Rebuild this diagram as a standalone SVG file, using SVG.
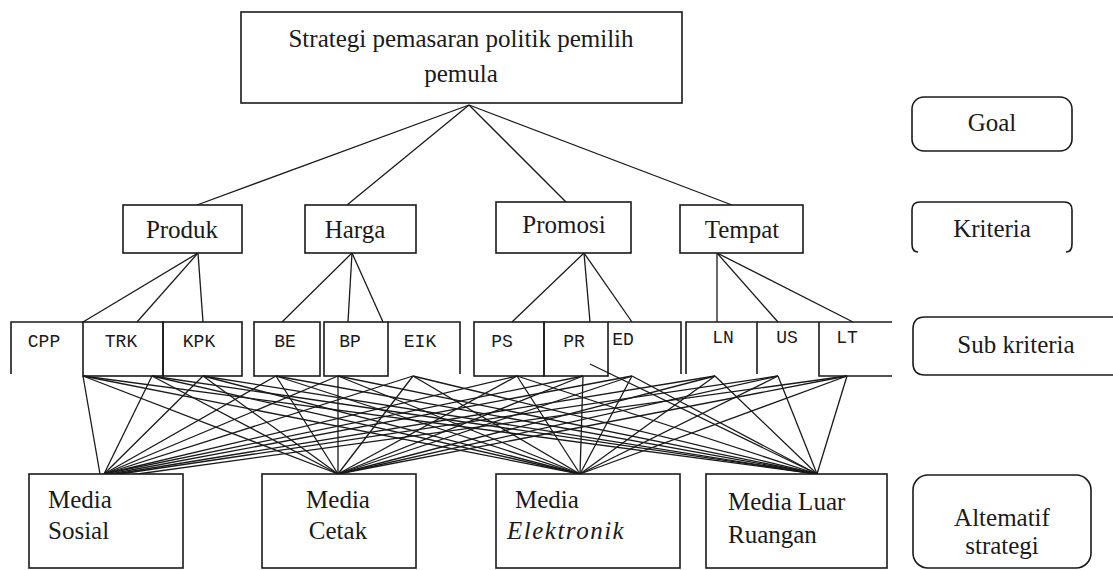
<svg xmlns="http://www.w3.org/2000/svg" width="1113" height="570" viewBox="0 0 1113 570">
<style>
.b{fill:#fff;stroke:#1a1a1a;stroke-width:1.6}
.o{fill:none;stroke:#1a1a1a;stroke-width:1.6}
.t{font-family:"Liberation Serif","Times New Roman",serif;font-size:25px;fill:#1a1a1a}
.m{font-family:"Liberation Mono","Courier New",monospace;font-size:18px;fill:#1a1a1a}
.c line{stroke:#1a1a1a;stroke-width:1.3}
</style>
<rect width="1113" height="570" fill="#fff"/>
<g class="c" id="connectors">
<line x1="469" y1="105" x2="197" y2="205"/>
<line x1="469" y1="105" x2="347" y2="205"/>
<line x1="469" y1="105" x2="566" y2="202"/>
<line x1="469" y1="105" x2="732" y2="205"/>
<line x1="198" y1="253" x2="83" y2="322"/>
<line x1="198" y1="253" x2="137" y2="322"/>
<line x1="198" y1="253" x2="203" y2="322"/>
<line x1="352" y1="253" x2="282" y2="322"/>
<line x1="352" y1="253" x2="348" y2="322"/>
<line x1="352" y1="253" x2="383" y2="322"/>
<line x1="584" y1="253" x2="512" y2="322"/>
<line x1="584" y1="253" x2="590" y2="322"/>
<line x1="584" y1="253" x2="632" y2="322"/>
<line x1="717" y1="253" x2="717" y2="322"/>
<line x1="717" y1="253" x2="778" y2="322"/>
<line x1="717" y1="253" x2="853" y2="322"/>
<line x1="83" y1="376" x2="100" y2="474"/><line x1="83" y1="376" x2="338" y2="474"/><line x1="83" y1="376" x2="580" y2="474"/><line x1="83" y1="376" x2="817" y2="474"/>
<line x1="152" y1="376" x2="104" y2="474"/><line x1="152" y1="376" x2="338" y2="474"/><line x1="152" y1="376" x2="580" y2="474"/><line x1="152" y1="376" x2="817" y2="474"/>
<line x1="203" y1="376" x2="104" y2="474"/><line x1="203" y1="376" x2="338" y2="474"/><line x1="203" y1="376" x2="580" y2="474"/><line x1="203" y1="376" x2="817" y2="474"/>
<line x1="276" y1="376" x2="104" y2="474"/><line x1="276" y1="376" x2="338" y2="474"/><line x1="276" y1="376" x2="580" y2="474"/><line x1="276" y1="376" x2="817" y2="474"/>
<line x1="338" y1="376" x2="104" y2="474"/><line x1="338" y1="376" x2="338" y2="474"/><line x1="338" y1="376" x2="580" y2="474"/><line x1="338" y1="376" x2="817" y2="474"/>
<line x1="413" y1="376" x2="104" y2="474"/><line x1="413" y1="376" x2="338" y2="474"/><line x1="413" y1="376" x2="580" y2="474"/><line x1="413" y1="376" x2="817" y2="474"/>
<line x1="517" y1="376" x2="104" y2="474"/><line x1="517" y1="376" x2="338" y2="474"/><line x1="517" y1="376" x2="580" y2="474"/><line x1="517" y1="376" x2="817" y2="474"/>
<line x1="583" y1="376" x2="104" y2="474"/><line x1="583" y1="376" x2="338" y2="474"/><line x1="583" y1="376" x2="580" y2="474"/><line x1="590" y1="364" x2="817" y2="474"/>
<line x1="632" y1="376" x2="110" y2="474"/><line x1="632" y1="376" x2="338" y2="474"/><line x1="632" y1="376" x2="580" y2="474"/><line x1="632" y1="376" x2="817" y2="474"/>
<line x1="715" y1="376" x2="115" y2="474"/><line x1="715" y1="376" x2="338" y2="474"/><line x1="715" y1="376" x2="580" y2="474"/><line x1="715" y1="376" x2="817" y2="474"/>
<line x1="778" y1="376" x2="120" y2="474"/><line x1="778" y1="376" x2="338" y2="474"/><line x1="778" y1="376" x2="580" y2="474"/><line x1="778" y1="376" x2="817" y2="474"/>
<line x1="847" y1="376" x2="123" y2="476"/><line x1="847" y1="376" x2="338" y2="474"/><line x1="847" y1="376" x2="580" y2="474"/><line x1="847" y1="376" x2="817" y2="474"/>
</g>
<g id="goal-node"><rect class="b" x="241" y="12" width="441" height="91"/>
<text class="t" x="461" y="47" text-anchor="middle">Strategi pemasaran politik pemilih</text>
<text class="t" x="461" y="82" text-anchor="middle">pemula</text></g>
<g id="produk"><rect class="b" x="123" y="205" width="119" height="48"/><text class="t" x="182" y="238" text-anchor="middle">Produk</text></g>
<g id="harga"><rect class="b" x="305" y="205" width="111" height="48"/><text class="t" x="355" y="238" text-anchor="middle">Harga</text></g>
<g id="promosi"><rect class="b" x="496" y="202" width="135" height="51"/><text class="t" x="564" y="233" text-anchor="middle">Promosi</text></g>
<g id="tempat"><rect class="b" x="680" y="205" width="123" height="48"/><text class="t" x="742" y="238" text-anchor="middle">Tempat</text></g>
<g id="cpp"><path class="o" d="M11,374 V322 H83"/><text class="m" x="44" y="347" text-anchor="middle">CPP</text></g>
<g id="trk"><rect class="o" x="83" y="322" width="80" height="54"/><text class="m" x="121" y="347" text-anchor="middle">TRK</text></g>
<g id="kpk"><rect class="o" x="163" y="322" width="79" height="54"/><text class="m" x="199" y="347" text-anchor="middle">KPK</text></g>
<g id="be"><rect class="o" x="254" y="322" width="66" height="54"/><text class="m" x="285" y="347" text-anchor="middle">BE</text></g>
<g id="bp"><rect class="o" x="324" y="322" width="64" height="54"/><text class="m" x="350" y="347" text-anchor="middle">BP</text></g>
<g id="eik"><path class="o" d="M388,322 H460 V374"/><text class="m" x="420" y="347" text-anchor="middle">EIK</text></g>
<g id="ps"><rect class="o" x="474" y="322" width="70" height="54"/><text class="m" x="502" y="347" text-anchor="middle">PS</text></g>
<g id="pr"><rect class="o" x="544" y="322" width="64" height="54"/><text class="m" x="574" y="347" text-anchor="middle">PR</text></g>
<g id="ed"><path class="o" d="M608,322 H681 V374"/><text class="m" x="623" y="345" text-anchor="middle">ED</text></g>
<g id="ln"><path class="o" d="M686,374 V322 H757 V374"/><text class="m" x="723" y="343" text-anchor="middle">LN</text></g>
<g id="us"><path class="o" d="M757,322 H819"/><text class="m" x="787" y="343" text-anchor="middle">US</text></g>
<g id="lt"><path class="o" d="M819,322 H892 M819,322 V376 H892"/><text class="m" x="847" y="343" text-anchor="middle">LT</text></g>
<g id="media-sosial"><rect class="b" x="29" y="474" width="154" height="94"/><text class="t" x="48" y="508">Media</text><text class="t" x="48" y="539">Sosial</text></g>
<g id="media-cetak"><rect class="b" x="262" y="474" width="154" height="94"/><text class="t" x="338" y="508" text-anchor="middle">Media</text><text class="t" x="338" y="539" text-anchor="middle">Cetak</text></g>
<g id="media-elektronik"><rect class="b" x="496" y="474" width="184" height="94"/><text class="t" x="515" y="508">Media</text><text class="t" x="507" y="539" font-style="italic" letter-spacing="1.5">Elektronik</text></g>
<g id="media-luar-ruangan"><rect class="b" x="706" y="474" width="181" height="94"/><text class="t" x="728" y="510">Media Luar</text><text class="t" x="728" y="543">Ruangan</text></g>
<g id="legend-goal"><rect class="b" x="912" y="97" width="160" height="54" rx="12"/><text class="t" x="992" y="131" text-anchor="middle">Goal</text></g>
<g id="legend-kriteria"><path class="o" d="M918,252 Q912,252 912,244 V210 Q912,202 920,202 H1064 Q1072,202 1072,210 V244 Q1072,252 1066,252"/><text class="t" x="992" y="237" text-anchor="middle">Kriteria</text></g>
<g id="legend-sub"><path class="o" d="M1113,317 H925 Q913,317 913,329 V363 Q913,375 925,375 H1113"/><text class="t" x="1016" y="353" text-anchor="middle">Sub kriteria</text></g>
<g id="legend-alt"><rect class="b" x="913" y="475" width="178" height="93" rx="15"/><text class="t" x="1002" y="526" text-anchor="middle">Altematif</text><text class="t" x="1002" y="554" text-anchor="middle">strategi</text></g>
</svg>
